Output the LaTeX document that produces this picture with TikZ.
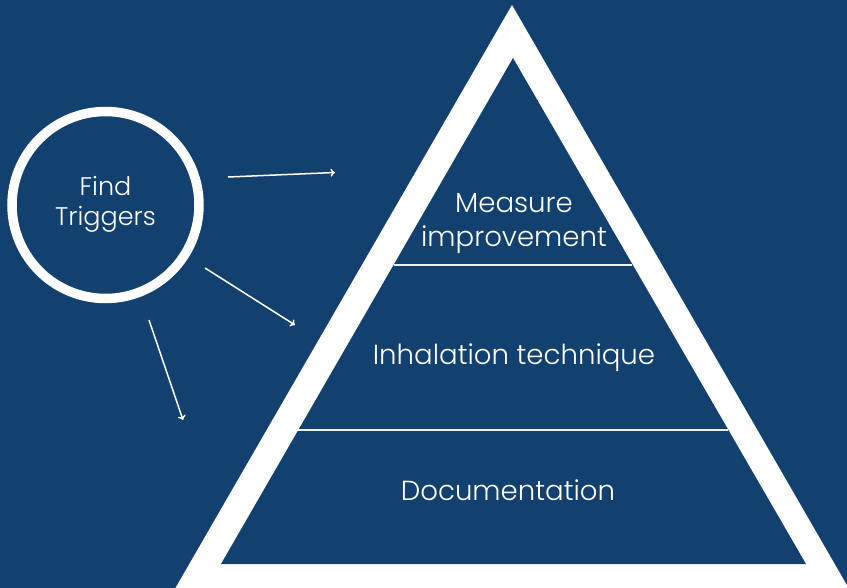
\documentclass[tikz,border=0pt]{standalone}
\usepackage{fontspec}
\setmainfont{Poppins}[UprightFont={* Light}]
\usetikzlibrary{arrows.meta}
\definecolor{bg}{HTML}{12406F}
\tikzset{
  lbl/.style={text=white, font=\fontsize{27.6}{34}\selectfont, inner sep=0pt, align=center},
  clbl/.style={text=white, font=\fontsize{25.5}{30}\selectfont, inner sep=0pt, align=center},
  divider/.style={draw=white!92!bg, line width=1.6pt},
  arr/.style={draw=white, line width=1.5pt, -{To[length=4.5pt,width=8pt]}},
}
\begin{document}
\begin{tikzpicture}[x=1pt,y=-1pt]
  \fill[bg] (0,0) rectangle (847,588);
  \useasboundingbox (0,0) rectangle (847,588);
  % outer white triangle
  \fill[white] (512,5) -- (850,590.5) -- (174,590.5) -- cycle;
  % inner blue triangle
  \fill[bg] (513,58) -- (806,564) -- (221,564) -- cycle;
  % dividers
  \coordinate (d1l) at (394,265);
  \coordinate (d1r) at (632,265);
  \coordinate (d2l) at (298,430);
  \coordinate (d2r) at (728,430);
  \draw[divider] (d1l) -- (d1r);
  \draw[divider] (d2l) -- (d2r);
  % labels
  \node[lbl] (measure) at (514,224) {Measure\\improvement};
  \node[lbl] (inhal) at (514,358) {Inhalation technique};
  \node[lbl] (doc) at (508,490) {Documentation};
  % circle
  \node[circle, draw=white, line width=9.5pt, minimum size=187pt, inner sep=0pt] (find) at (105.5,205) {};
  \node[clbl] (findtxt) at (105.5,204) {Find\\Triggers};
  % arrows
  \coordinate (a1s) at (228,177);
  \coordinate (a1e) at (335,172.5);
  \coordinate (a2s) at (205,268);
  \coordinate (a2e) at (295,325);
  \coordinate (a3s) at (149,320);
  \coordinate (a3e) at (183,420);
  \draw[arr] (a1s) -- (a1e);
  \draw[arr] (a2s) -- (a2e);
  \draw[arr] (a3s) -- (a3e);
\end{tikzpicture}
\end{document}
